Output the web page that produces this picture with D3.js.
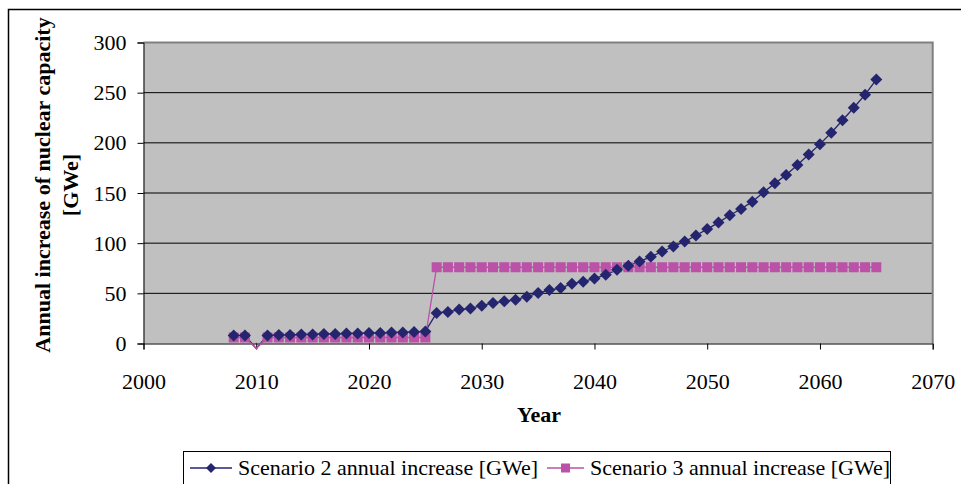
<!DOCTYPE html>
<html><head><meta charset="utf-8">
<script src="https://cdn.jsdelivr.net/npm/d3@7"></script>
<style>body{margin:0;background:#fff}svg{display:block}</style>
</head><body>
<svg id="c" width="961" height="484"></svg>
<script>
const years = d3.range(2008, 2066);
const scenario2 = [8,8,-5,8,8.5,8.5,9,9,9.5,9.5,10,10,10.5,10.5,11,11,11.5,12,
  30.5,31.5,33.8,35,37.7,40.4,42,43.7,46.7,50.3,53.3,55.3,59.6,61.6,64.9,
  68.5,73.5,77.5,81.8,86.4,91.7,96.7,101.6,107.6,114,120.5,127.8,134,141.4,150.7,
  159.6,168,178,188.4,198.7,210,222.5,235,248,263];
const scenario3 = [6,6,-5,6,6,6,6,6,6,6,6,6,6,6,6,6,6,6,
  76,76,76,76,76,76,76,76,76,76,76,76,76,76,76,76,76,76,76,76,76,76,76,76,
  76,76,76,76,76,76,76,76,76,76,76,76,76,76,76,76];
const xTicks = [2000,2010,2020,2030,2040,2050,2060,2070];
const yTicks = [0,50,100,150,200,250,300];
const seriesNames = ["Scenario 2 annual increase [GWe]","Scenario 3 annual increase [GWe]"];
const colors = ["#25256f","#bb52a8"];

const svg = d3.select("#c");
const font = "'Liberation Serif','Times New Roman',serif";
const L=143.5, R=932.7, T=42.5, B=343.5;
const x = d3.scaleLinear().domain([2000,2070]).range([L,R]);
const y = d3.scaleLinear().domain([0,300]).range([B,T]);

// outer frame
svg.append("rect").attr("x",8.5).attr("y",9.5).attr("width",980).attr("height",500)
  .attr("fill","#fff").attr("stroke","#000").attr("stroke-width",1.5);

// plot area
svg.append("rect").attr("x",L).attr("y",T).attr("width",R-L).attr("height",B-T)
  .attr("fill","#c0c0c0");
svg.append("defs").append("clipPath").attr("id","pc").append("rect")
  .attr("x",L).attr("y",T).attr("width",R-L).attr("height",B-T);

// gridlines
svg.append("g").selectAll("line").data(yTicks.filter(v=>v>0&&v<300)).join("line")
  .attr("x1",L).attr("x2",R).attr("y1",d=>y(d)).attr("y2",d=>y(d))
  .attr("stroke","#000").attr("stroke-width",1);
// plot border top/right
svg.append("path").attr("d",`M${L},${T}H${R}V${B}`).attr("fill","none")
  .attr("stroke","#808080").attr("stroke-width",2);

// axes
const yAxis = svg.append("g").attr("transform",`translate(${L},0)`)
  .call(d3.axisLeft(y).tickValues(yTicks).tickSize(6).tickPadding(11));
const xAxis = svg.append("g").attr("transform",`translate(0,${B})`)
  .call(d3.axisBottom(x).tickValues(xTicks).tickFormat(d3.format("d")).tickSize(6).tickPadding(24));
[yAxis,xAxis].forEach(a=>{
  a.select(".domain").attr("stroke","#000");
  a.selectAll(".tick line").attr("stroke","#000");
  a.selectAll("text").attr("font-family",font).attr("font-size",22).attr("fill","#000");
});

// lines
const line = d3.line().x((d,i)=>x(years[i])).y(d=>y(d));
[scenario2,scenario3].forEach((s,k)=>{
  svg.append("path").datum(s).attr("d",line).attr("fill","none")
    .attr("stroke",colors[k]).attr("stroke-width",1.3);
});
// markers
const mg = svg.append("g").attr("clip-path","url(#pc)");
mg.selectAll(".sq").data(scenario3).join("rect")
  .attr("x",(d,i)=>x(years[i])-5).attr("y",d=>y(d)-5).attr("width",10).attr("height",10)
  .attr("fill",colors[1]);
mg.selectAll(".dm").data(scenario2).join("path")
  .attr("d",(d,i)=>{const cx=x(years[i]),cy=y(d),r=6;return `M${cx},${cy-r}L${cx+r},${cy}L${cx},${cy+r}L${cx-r},${cy}Z`;})
  .attr("fill",colors[0]);

// titles
svg.append("text").attr("x",539).attr("y",422).attr("text-anchor","middle")
  .attr("font-family",font).attr("font-size",22).attr("font-weight","bold").text("Year");
const yt = svg.append("text").attr("transform","translate(50,185) rotate(-90)")
  .attr("text-anchor","middle").attr("font-family",font).attr("font-size",22).attr("font-weight","bold");
yt.append("tspan").attr("x",0).attr("dy",0).text("Annual increase of nuclear capacity");
yt.append("tspan").attr("x",0).attr("dy",28).text("[GWe]");

// legend
svg.append("rect").attr("x",183.5).attr("y",451.5).attr("width",707).attr("height",45)
  .attr("fill","#fff").attr("stroke","#000").attr("stroke-width",1);
const lg = [{x0:190,tx:238},{x0:547,tx:590}];
lg.forEach((p,k)=>{
  const cy=468;
  svg.append("line").attr("x1",p.x0).attr("x2",p.tx-6).attr("y1",cy).attr("y2",cy)
    .attr("stroke",colors[k]).attr("stroke-width",1.3);
  const mx=(p.x0+p.tx-6)/2;
  if(k===0) svg.append("path").attr("d",`M${mx},${cy-5}L${mx+5},${cy}L${mx},${cy+5}L${mx-5},${cy}Z`).attr("fill",colors[0]);
  else svg.append("rect").attr("x",mx-4.5).attr("y",cy-4.5).attr("width",9).attr("height",9).attr("fill",colors[1]);
  svg.append("text").attr("x",p.tx).attr("y",cy+7).attr("font-family",font).attr("font-size",22)
    .text(seriesNames[k]);
});
</script>
</body></html>
